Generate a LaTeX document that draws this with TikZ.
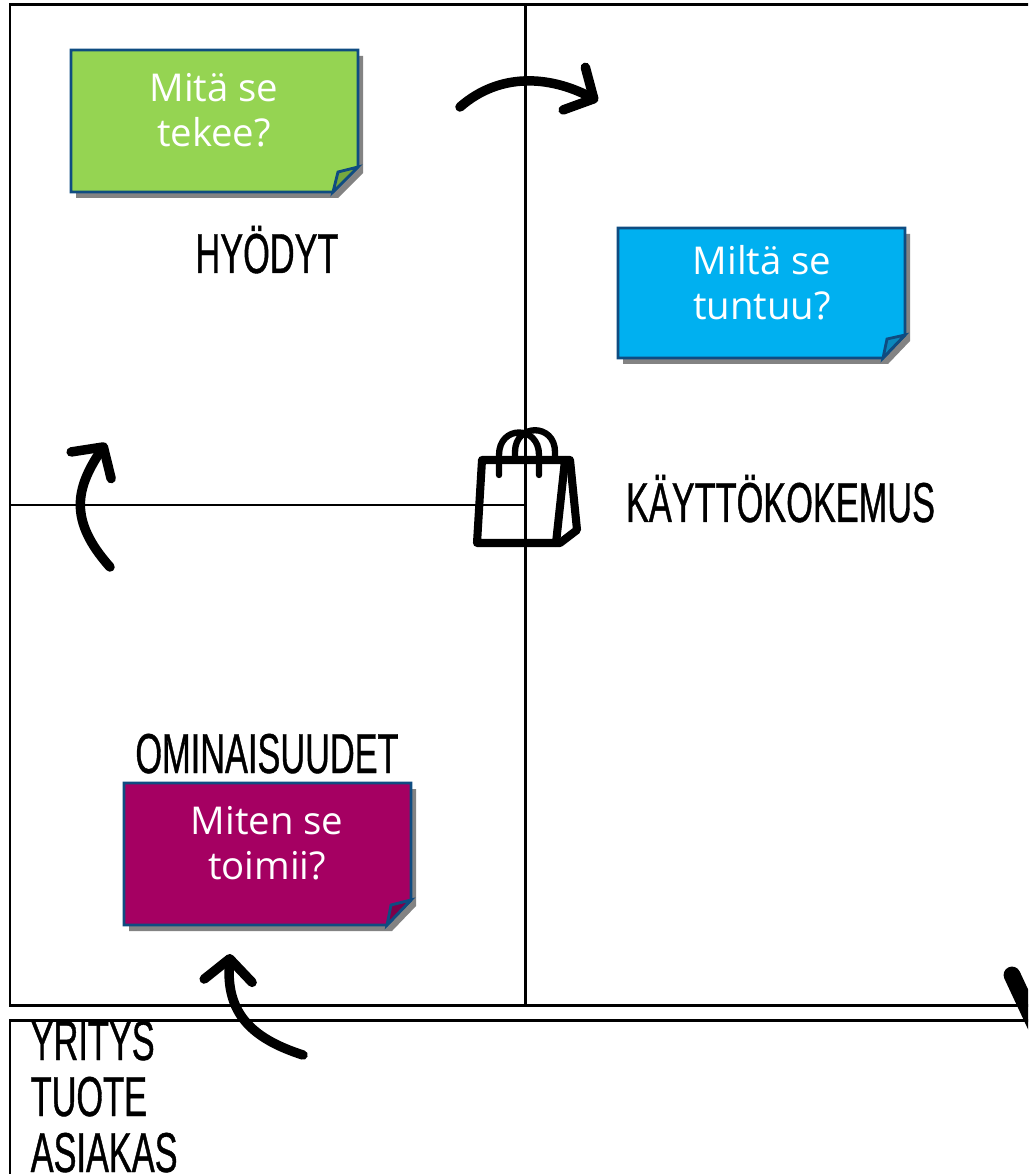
\documentclass[tikz,border=0pt]{standalone}
\usepackage{fontspec}
\usepackage{xcolor}
\usetikzlibrary{arrows.meta,shadows}
\setmainfont{Liberation Sans}[FakeStretch=0.61,FakeBold=0.7]
\newfontfamily\notefont{Open Sans}
\definecolor{noteedge}{HTML}{0F4C81}
\definecolor{notegreen}{HTML}{95D452}
\definecolor{foldgreen}{HTML}{76A83F}
\definecolor{noteblue}{HTML}{00B0F0}
\definecolor{foldblue}{HTML}{0A88BC}
\definecolor{notepurple}{HTML}{A50062}
\definecolor{foldpurple}{HTML}{7D0049}
\tikzset{
  frame/.style={line width=.85pt},
  note/.style={draw=noteedge,line width=.8pt,drop shadow={shadow xshift=.05cm,shadow yshift=-.06cm,opacity=.65,fill=black!75}},
  fold/.style={draw=noteedge,line width=.8pt},
  notetext/.style={text=white,align=center,font=\notefont\fontsize{10.9}{12.8}\selectfont},
  heading/.style={anchor=base,font=\fontsize{16}{16}\selectfont},
  listitem/.style={anchor=base west,inner sep=0pt,font=\fontsize{16}{16}\selectfont},
  swoosh/.style={line width=2.7pt,line cap=round,-{Straight Barb[length=2.2mm,width=4.8mm,round]}},
  bagbody/.style={line width=2.3pt,line join=round,line cap=round},
  baghandle/.style={line width=1.8pt,line cap=round}
}
\begin{document}
\begin{tikzpicture}[x=.01cm,y=-.01cm]
\clip (0,0) rectangle (1028,1174);

\draw[frame] (10,5) rectangle (1045,1005);
\draw[frame] (525,5) -- (525,1005);
\draw[frame] (10,505) -- (525,505);
\draw[frame] (10,1020) rectangle (1045,1200);

\draw[note,fill=notegreen] (71,50) -- (358,50) -- (358,167) -- (333,192) -- (71,192) -- cycle;
\draw[fold,fill=foldgreen] (333,192) -- (338,172) -- (358,167) -- cycle;
\node[notetext] (whatnote) at (214,110) {Mitä se\\tekee?};

\draw[note,fill=noteblue] (618,228) -- (905,228) -- (905,335) -- (883,358) -- (618,358) -- cycle;
\draw[fold,fill=foldblue] (883,358) -- (887,339) -- (905,335) -- cycle;
\node[notetext] (feelnote) at (762,283) {Miltä se\\tuntuu?};

\draw[note,fill=notepurple] (124,783) -- (411,783) -- (411,900) -- (387,925) -- (124,925) -- cycle;
\draw[fold,fill=foldpurple] (387,925) -- (391,905) -- (411,900) -- cycle;
\node[notetext] (hownote) at (267,843) {Miten se\\toimii?};

\node[heading] (benefits) at (267,273) {HYÖDYT};
\node[heading] (experience) at (780.5,522) {KÄYTTÖKOKEMUS};
\node[heading] (features) at (267,773) {OMINAISUUDET};

\node[listitem] (company) at (30,1060) {YRITYS};
\node[listitem] (product) at (30,1116) {TUOTE};
\node[listitem] (customer) at (30,1172) {ASIAKAS};

\coordinate (topstart) at (460,107);
\coordinate (toptip) at (598,101);
\coordinate (leftstart) at (110,567);
\coordinate (lefttip) at (106,443);
\coordinate (lowstart) at (303,1055);
\coordinate (lowtip) at (230,954);
\coordinate (edgestart) at (1012,975);
\coordinate (edgeend) at (1040,1035);

\draw[swoosh] (topstart) .. controls (500,72) and (550,76) .. (toptip);
\draw[swoosh] (leftstart) .. controls (68,520) and (76,488) .. (lefttip);
\draw[swoosh] (lowstart) .. controls (250,1038) and (226,1012) .. (lowtip);
\draw[line width=4.8pt,line cap=round] (edgestart) -- (edgeend);

\draw[bagbody] (482,460) -- (570,460) -- (577,530) -- (560,543) -- (477,543) -- cycle;
\draw[bagbody] (565,460) -- (556,543);
\draw[baghandle] (499,475) -- (499,455) .. controls (499,425) and (539,425) .. (539,455) -- (539,475);
\draw[baghandle] (515,460) -- (515,452) .. controls (515,423) and (555,423) .. (555,452) -- (555,460);
\end{tikzpicture}
\end{document}
